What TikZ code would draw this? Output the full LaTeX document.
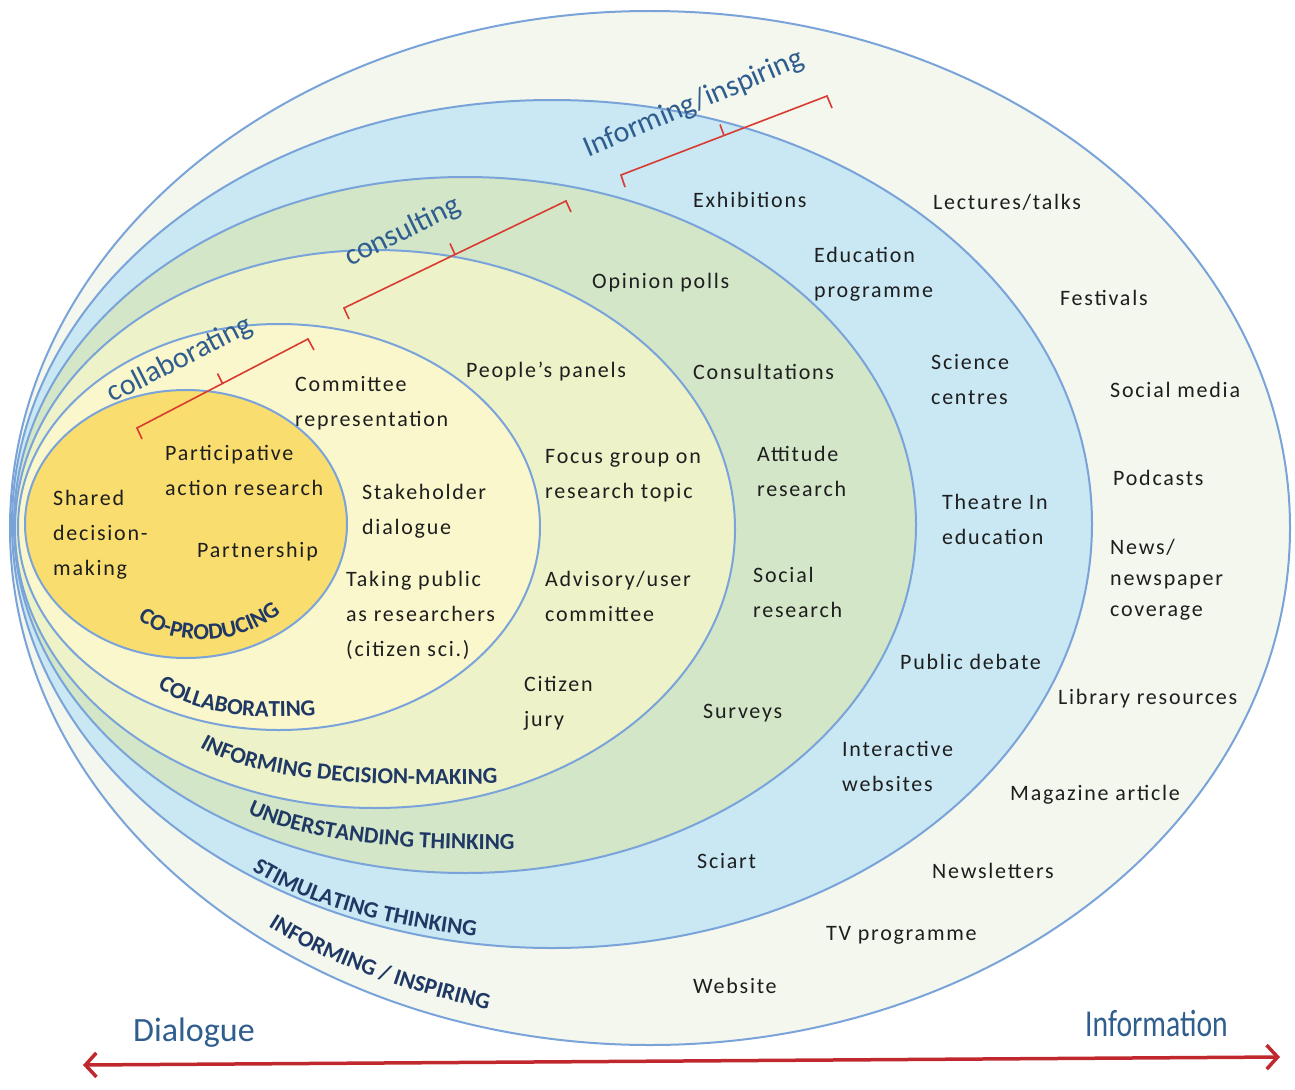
\documentclass[tikz,border=0pt]{standalone}
\usepackage{fontspec}
\usepackage{graphicx}
\setmainfont{Carlito}
\newfontfamily\itemfont[LetterSpace=8]{Carlito}
\usetikzlibrary{decorations.text,arrows.meta,calc}
\definecolor{outerc}{HTML}{F3F7EE}
\definecolor{bluec}{HTML}{C9E8F3}
\definecolor{greenc}{HTML}{D3E6C8}
\definecolor{paleyc}{HTML}{EDF2C8}
\definecolor{lightyc}{HTML}{FBF7CD}
\definecolor{goldc}{HTML}{F9DD6E}
\definecolor{ringc}{HTML}{7AA4D9}
\definecolor{itemc}{HTML}{1E1E1E}
\definecolor{navyc}{HTML}{1F3864}
\definecolor{labc}{HTML}{2E5D8E}
\definecolor{bracec}{HTML}{D93A32}
\definecolor{arrowc}{HTML}{C0282E}
\newcommand\clabfmt{\fontsize{23}{23}\selectfont\bfseries\color{navyc}}
\tikzset{
  ring/.style={draw=ringc, line width=2pt},
  item/.style={font=\itemfont\fontsize{22}{35}\selectfont, text=itemc, inner sep=0pt, align=left, anchor=west},
  toplab/.style={font=\fontsize{30}{30}\selectfont, text=labc, inner sep=0pt},
  curvelab/.style={decorate, decoration={text along path, text align=center, text={#1}}},
  bracket/.style={draw=bracec, line width=1.6pt, line join=miter},
  endlab/.style={text=labc, inner sep=0pt, anchor=west}
}
\begin{document}
\begin{tikzpicture}[x=1pt,y=-1pt]
\useasboundingbox (0,0) rectangle (1295,1089);
% nested ellipses
\draw[ring, fill=outerc] (650,528) ellipse [x radius=640, y radius=517];
\draw[ring, fill=bluec] (552,524) ellipse [x radius=540, y radius=424];
\draw[ring, fill=greenc] (465,525) ellipse [x radius=451, y radius=348];
\draw[ring, fill=paleyc] (375,529) ellipse [x radius=360, y radius=279];
\draw[ring, fill=lightyc] (279,527) ellipse [x radius=261, y radius=203];
\draw[ring, fill=goldc] (186,524) ellipse [x radius=161, y radius=134];

% curved level labels
\path[curvelab={|\clabfmt|CO-PRODUCING}] (128,612) .. controls (172,652) and (245,648) .. (290,605);
\path[curvelab={|\clabfmt|COLLABORATING}] (150,682) .. controls (190,714) and (255,722) .. (325,714);
\path[curvelab={|\clabfmt|INFORMING DECISION-MAKING}] (185,738) .. controls (250,788) and (400,786) .. (515,783);
\path[curvelab={|\clabfmt|UNDERSTANDING THINKING}] (232,805) .. controls (290,842) and (410,852) .. (532,849);
\path[curvelab={|\clabfmt|STIMULATING THINKING}] (240,862) .. controls (300,906) and (395,928) .. (490,938);
\path[curvelab={|\clabfmt|INFORMING / INSPIRING}] (258,920) .. controls (320,962) and (405,992) .. (500,1012);

% rotated labels
\node[toplab, rotate=27] (lcollab) at (180,360) {collaborating};
\node[toplab, rotate=26] (lconsult) at (403,232) {consulting};
\node[toplab, rotate=23] (linform) at (694,104) {Informing/inspiring};

% brackets
\coordinate (c1a) at (137,428); \coordinate (c1b) at (308,339);
\coordinate (c1m) at ($(c1a)!0.5!(c1b)$);
\draw[bracket] ($(c1a)+(5,11)$) -- (c1a) -- (c1b) -- ($(c1b)+(6,11)$);
\draw[bracket] (c1m) -- ($(c1m)+(-5,-10)$);
\coordinate (c2a) at (344,308); \coordinate (c2b) at (566,201);
\coordinate (c2m) at ($(c2a)!0.5!(c2b)$);
\draw[bracket] ($(c2a)+(5,11)$) -- (c2a) -- (c2b) -- ($(c2b)+(5,11)$);
\draw[bracket] (c2m) -- ($(c2m)+(-5,-11)$);
\coordinate (c3a) at (621,175); \coordinate (c3b) at (827,96);
\coordinate (c3m) at ($(c3a)!0.5!(c3b)$);
\draw[bracket] ($(c3a)+(4,12)$) -- (c3a) -- (c3b) -- ($(c3b)+(5,12)$);
\draw[bracket] (c3m) -- ($(c3m)+(-4,-11)$);

% gold
\node[item] (shared) at (53,535) {Shared\\decision-\\making};
\node[item] (particip) at (165,470) {Participative\\action research};
\node[item] (partner) at (197,552) {Partnership};
% light yellow
\node[item] (committee) at (295,403) {Committee\\representation};
\node[item] (stake) at (362,511) {Stakeholder\\dialogue};
\node[item] (taking) at (346,615) {Taking public\\as researchers\\(citizen sci.)};
% pale yellow
\node[item] (people) at (466,372) {People’s panels};
\node[item] (focus) at (545,476) {Focus group on\\research topic};
\node[item] (advisory) at (545,596) {Advisory/user\\committee};
\node[item] (citizen) at (524,703) {Citizen\\jury};
% green
\node[item] (opinion) at (592,283) {Opinion polls};
\node[item] (consult) at (693,372) {Consultations};
\node[item] (attitude) at (757,471) {Attitude\\research};
\node[item] (socres) at (753,592) {Social\\research};
\node[item] (surveys) at (703,713) {Surveys};
% blue
\node[item] (exhib) at (693,200) {Exhibitions};
\node[item] (educ) at (814,274) {Education\\programme};
\node[item] (science) at (931,380) {Science\\centres};
\node[item] (theatre) at (942,519) {Theatre In\\education};
\node[item] (pubdeb) at (900,662) {Public debate};
\node[item] (interact) at (842,766) {Interactive\\websites};
\node[item] (sciart) at (697,861) {Sciart};
% outer
\node[item] (lectures) at (933,202) {Lectures/talks};
\node[item] (festivals) at (1060,298) {Festivals};
\node[item] (socmed) at (1110,390) {Social media};
\node[item] (podcasts) at (1113,478) {Podcasts};
\node[item, font=\itemfont\fontsize{22}{31}\selectfont] (news) at (1110,580) {News/\\newspaper\\coverage};
\node[item] (library) at (1058,699) {Library resources};
\node[item] (magazine) at (1010,795) {Magazine article};
\node[item] (newsl) at (932,871) {Newsletters};
\node[item] (tv) at (826,935) {TV programme};
\node[item] (website) at (693,986) {Website};

% axis
\coordinate (arL) at (83,1065);
\coordinate (arR) at (1280,1057);
\draw[arrowc, line width=3.5pt, {Straight Barb[length=11pt,width=24pt]}-{Straight Barb[length=11pt,width=24pt]}] (arL) -- (arR);
\node[endlab, font=\fontsize{34}{34}\selectfont] (dialogue) at (133,1033) {Dialogue};
\node[endlab, font=\fontsize{38}{38}\selectfont] (information) at (1085,1023) {\scalebox{0.78}[1]{Information}};
\end{tikzpicture}
\end{document}
